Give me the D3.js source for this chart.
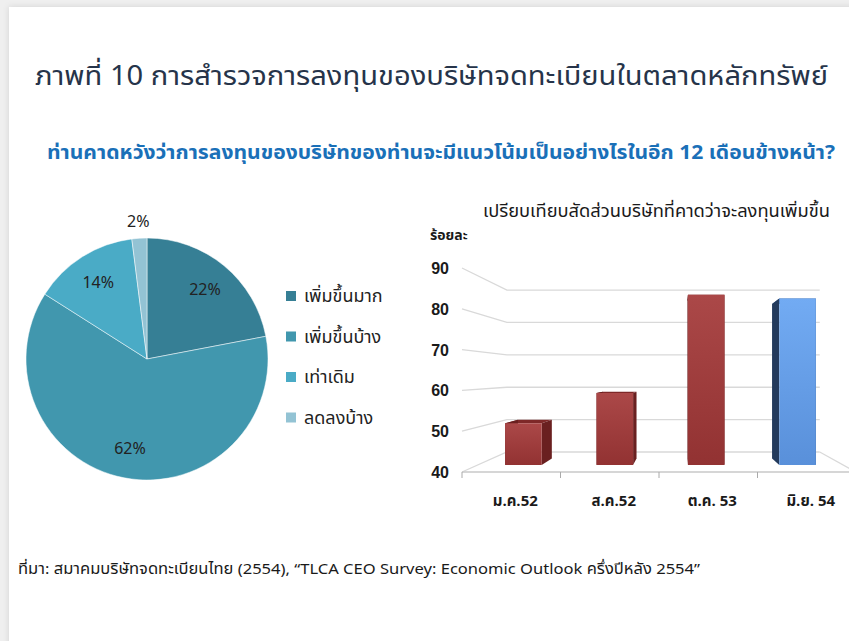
<!DOCTYPE html>
<meta charset="utf-8">
<script src="https://d3js.org/d3.v7.min.js"></script>
<style>
  body { margin: 0; background: #efefef; }
  svg { display: block; }
  .th { font-family: Tahoma, "Noto Sans Thai", "Noto Sans", sans-serif; }
</style>
<svg id="chart"></svg>
<script>

// pie data
var pieLabels = ["เพิ่มขึ้นมาก", "เพิ่มขึ้นบ้าง", "เท่าเดิม", "ลดลงบ้าง"];
var pieValues = [22, 62, 14, 2];
var pieColors = ["#367f95", "#4197ae", "#4aabc6", "#93c3d4"];

// bar data
var categories = ["ม.ค.52", "ส.ค.52", "ต.ค. 53", "มิ.ย. 54"];
var barValues = [51, 59, 85, 84];
var yTicks = [40, 50, 60, 70, 80, 90];

var W = 849, H = 641;

var svg = d3.select("#chart")
  .attr("width", W)
  .attr("height", H);

var defs = svg.append("defs");
var shadow = defs.append("filter").attr("id", "shadow")
  .attr("x", "-5%").attr("y", "-5%").attr("width", "110%").attr("height", "110%");
shadow.append("feDropShadow")
  .attr("dx", 0).attr("dy", 0).attr("stdDeviation", 3)
  .attr("flood-color", "#000").attr("flood-opacity", 0.12);

function grad(id, c1, c2) {
  var g = defs.append("linearGradient").attr("id", id)
    .attr("x1", 0).attr("y1", 0).attr("x2", 0).attr("y2", 1);
  g.append("stop").attr("offset", "0%").attr("stop-color", c1);
  g.append("stop").attr("offset", "100%").attr("stop-color", c2);
}
grad("redFront", "#ab4848", "#923232");
grad("blueFront", "#72abf3", "#5990da");

// card
svg.append("rect").attr("width", W).attr("height", H).attr("fill", "#efefef");
svg.append("rect")
  .attr("x", 9).attr("y", 7).attr("width", W + 40).attr("height", H + 40)
  .attr("fill", "#fff")
  .attr("filter", "url(#shadow)");

// text helper, stretched to the width it has in the original
function label(x, y, size, width, txt) {
  return svg.append("text").attr("class", "th")
    .attr("x", x).attr("y", y)
    .attr("font-size", size)
    .attr("textLength", width)
    .attr("lengthAdjust", "spacingAndGlyphs")
    .text(txt);
}

// titles
label(35, 85, 27, 793, "ภาพที่ 10 การสำรวจการลงทุนของบริษัทจดทะเบียนในตลาดหลักทรัพย์")
  .attr("fill", "#26344a");

label(47, 159, 20, 788, "ท่านคาดหวังว่าการลงทุนของบริษัทของท่านจะมีแนวโน้มเป็นอย่างไรในอีก 12 เดือนข้างหน้า?")
  .attr("font-weight", "bold")
  .attr("fill", "#1a70b8");

// ---------- pie ----------
var cx = 147, cy = 359, R = 121;
var pie = d3.pie().sort(null).value(function(d) { return d; });
var arcs = pie(pieValues);
var arc = d3.arc().innerRadius(0).outerRadius(R);
var labelArc = d3.arc().innerRadius(91).outerRadius(91);
var outArc = d3.arc().innerRadius(138).outerRadius(138);

var gPie = svg.append("g").attr("transform", "translate(" + cx + "," + cy + ")");
gPie.selectAll("path")
  .data(arcs)
  .enter().append("path")
  .attr("d", arc)
  .attr("fill", function(d, i) { return pieColors[i]; })
  .attr("stroke", "#fff")
  .attr("stroke-width", 0.5);

gPie.selectAll("text")
  .data(arcs)
  .enter().append("text")
  .attr("class", "th")
  .attr("transform", function(d) {
    var c = (d.value < 5 ? outArc : labelArc).centroid(d);
    return "translate(" + c[0] + "," + (c[1] + 6) + ")";
  })
  .attr("text-anchor", "middle")
  .attr("font-size", 16)
  .attr("fill", "#222")
  .text(function(d) { return d.value + "%"; });

// legend
var legend = svg.append("g").attr("transform", "translate(286,296)");
var lg = legend.selectAll("g")
  .data(pieLabels)
  .enter().append("g")
  .attr("transform", function(d, i) { return "translate(0," + (i * 40.5) + ")"; });
lg.append("rect")
  .attr("x", 0).attr("y", -5).attr("width", 10).attr("height", 10)
  .attr("fill", function(d, i) { return pieColors[i]; });
lg.append("text").attr("class", "th")
  .attr("x", 18).attr("y", 6)
  .attr("font-size", 18)
  .attr("fill", "#222")
  .text(function(d) { return d; });

// ---------- 3d bar chart ----------
var vx = 680, vy = 375, shrink = 0.206;
var yFront = d3.scaleLinear().domain([40, 90]).range([472, 268]);
var x = d3.scaleBand().domain(categories).range([462, 856])
  .paddingInner(0.6).paddingOuter(0.3);
var step = x.step();

// perspective: front coords + depth (0 = front, 1 = back wall)
function P(xf, yf, d) {
  var s = 1 - shrink * d;
  return [vx + (xf - vx) * s, vy + (yf - vy) * s];
}
function poly(pts) { return "M" + pts.map(function(p) { return p.join(","); }).join("L") + "Z"; }

var gBar = svg.append("g");
var xL = 462, xR = 856;

// walls gridlines
yTicks.forEach(function(v) {
  var yf = yFront(v);
  var a = P(xL, yf, 0), b = P(xL, yf, 1), c = P(xR, yf, 1);
  gBar.append("path")
    .attr("d", "M" + a + "L" + b + "L" + c)
    .attr("fill", "none")
    .attr("stroke", "#d9d9d9")
    .attr("stroke-width", 1.3);
});
// floor side edge
var fl = yFront(40);
gBar.append("path")
  .attr("d", "M" + P(xR, fl, 1) + "L" + P(xR, fl, 0))
  .attr("fill", "none").attr("stroke", "#d9d9d9").attr("stroke-width", 1.3);

// bars
var d0 = 0.35, d1 = 0.68;
var bars = gBar.selectAll("g.bar")
  .data(barValues)
  .enter().append("g").attr("class", "bar");

bars.each(function(v, i) {
  var g = d3.select(this);
  var x0 = x(categories[i]), x1 = x0 + x.bandwidth();
  var yt = yFront(v), yb = yFront(40);
  var blue = i === 3;
  var sideC = blue ? "#233a5c" : "#6a2020";
  var topC = blue ? "#3d66a0" : "#7e2828";
  g.append("path").attr("fill", topC)
    .attr("d", poly([P(x0, yt, d0), P(x1, yt, d0), P(x1, yt, d1), P(x0, yt, d1)]));
  g.append("path").attr("fill", sideC)
    .attr("d", poly([P(x1, yt, d0), P(x1, yt, d1), P(x1, yb, d1), P(x1, yb, d0)]));
  g.append("path").attr("fill", sideC)
    .attr("d", poly([P(x0, yt, d0), P(x0, yt, d1), P(x0, yb, d1), P(x0, yb, d0)]));
  g.append("path").attr("fill", blue ? "url(#blueFront)" : "url(#redFront)")
    .attr("d", poly([P(x0, yt, d0), P(x1, yt, d0), P(x1, yb, d0), P(x0, yb, d0)]));
});

// front floor edge and ticks
gBar.append("line")
  .attr("x1", xL).attr("x2", xR).attr("y1", fl).attr("y2", fl)
  .attr("stroke", "#c8c8c8").attr("stroke-width", 1.5);
var tickX = categories.map(function(c) { return x(c) + x.bandwidth() / 2 - step / 2; });
gBar.selectAll("line.tick")
  .data(tickX)
  .enter().append("line").attr("class", "tick")
  .attr("x1", function(d) { return d; }).attr("x2", function(d) { return d; })
  .attr("y1", fl).attr("y2", fl + 6)
  .attr("stroke", "#aaa").attr("stroke-width", 1);

// y labels
gBar.selectAll("text.ylab")
  .data(yTicks)
  .enter().append("text").attr("class", "ylab")
  .attr("x", 449).attr("y", function(d) { return yFront(d) + 6; })
  .attr("text-anchor", "end")
  .attr("font-family", "'Liberation Sans', Arial, sans-serif")
  .attr("font-weight", "bold")
  .attr("font-size", 16)
  .attr("fill", "#1a1a1a")
  .text(function(d) { return d; });

// x labels
gBar.selectAll("text.xlab")
  .data(categories)
  .enter().append("text").attr("class", "xlab th")
  .attr("x", function(d) { return x(d) + x.bandwidth() / 2 + 4; })
  .attr("y", 506)
  .attr("text-anchor", "middle")
  .attr("font-weight", "bold")
  .attr("font-size", 15)
  .attr("fill", "#1a1a1a")
  .text(function(d) { return d; });

// bar titles
label(483, 217, 17, 347, "เปรียบเทียบสัดส่วนบริษัทที่คาดว่าจะลงทุนเพิ่มขึ้น")
  .attr("fill", "#1a1a1a");
svg.append("text").attr("class", "th")
  .attr("x", 430).attr("y", 240)
  .attr("font-size", 14)
  .attr("font-weight", "bold")
  .attr("fill", "#1a1a1a")
  .text("ร้อยละ");

// source
label(18, 574, 15, 682, "ที่มา: สมาคมบริษัทจดทะเบียนไทย (2554), “TLCA CEO Survey: Economic Outlook ครึ่งปีหลัง 2554”")
  .attr("fill", "#1a1a1a");

</script>
